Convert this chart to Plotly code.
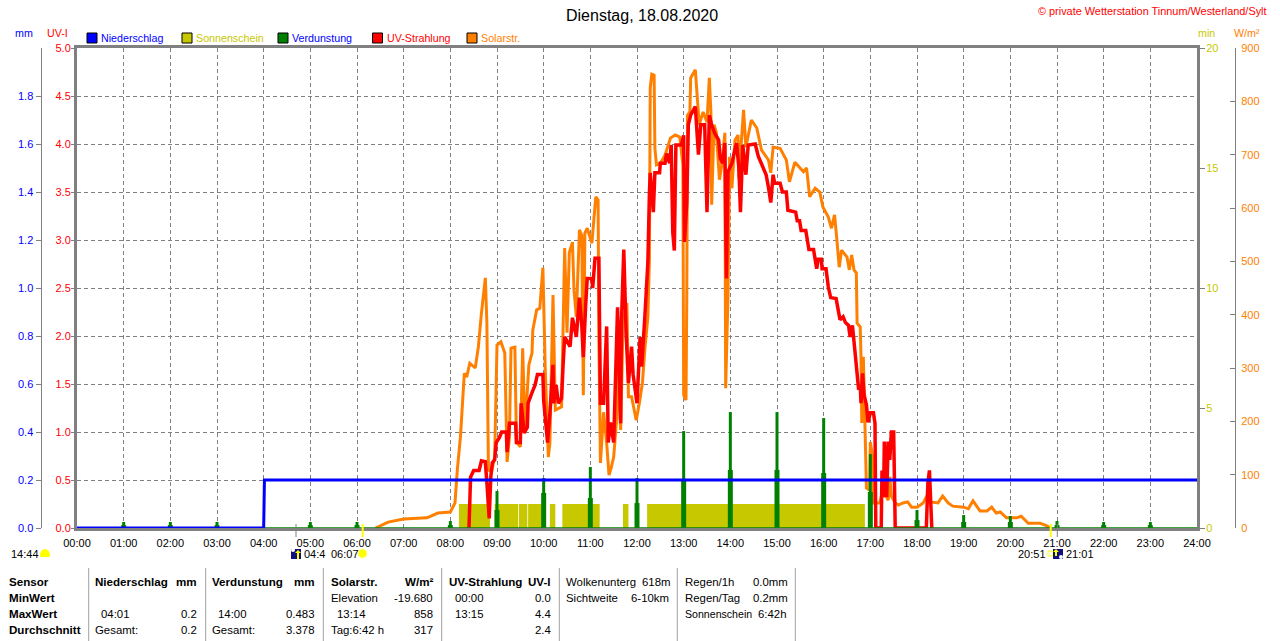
import plotly.graph_objects as go
import pandas as pd

W, H = 1280, 641
DAY = pd.Timestamp('2020-08-18')

# Solar radiation, W/m2 (minutes since midnight, value)
solar_min = [384, 400, 420, 450, 464, 480, 486, 487, 489, 493, 496, 498, 501, 505, 512, 516, 520, 525, 527, 529,
             533, 537, 540, 545, 550, 553, 556, 558, 563, 565, 570, 573, 576, 581, 585, 586, 591, 595, 599, 602,
             606, 608, 612, 615, 623, 627, 630, 633, 637, 639, 642, 646, 649, 651, 653, 656, 662, 665, 667, 670,
             671, 673, 677, 681, 684, 687, 690, 694, 696, 699, 702, 707, 709, 713, 719, 723, 727, 730, 734, 736,
             737, 739, 742, 743, 745, 750, 756, 763, 769, 775, 779, 780, 783, 784, 785, 788, 789, 795, 797, 800,
             805, 810, 813, 815, 816, 819, 822, 826, 829, 833, 834, 837, 839, 842, 846, 850, 851, 857, 860, 867,
             874, 880, 889, 892, 895, 904, 912, 916, 923, 934, 938, 942, 949, 955, 959, 966, 970, 974, 977, 980,
             983, 990, 993, 996, 999, 1002, 1003, 1007, 1008, 1009, 1011, 1013, 1015, 1019, 1020, 1023, 1024, 1032,
             1036, 1043, 1045, 1047, 1052, 1056, 1062, 1068, 1073, 1080, 1088, 1092, 1097, 1107, 1113, 1120, 1126,
             1140, 1146, 1152, 1161, 1170, 1176, 1182, 1187, 1195, 1208, 1214, 1223, 1238, 1247, 1251]
solar_val = [0, 11, 17, 19, 28, 30, 47, 71, 109, 171, 234, 290, 283, 309, 300, 339, 403, 469, 384, 109,
             105, 133, 343, 349, 328, 124, 171, 337, 339, 161, 152, 337, 184, 306, 328, 371, 409, 412, 488, 300,
             133, 159, 437, 221, 227, 525, 366, 516, 536, 446, 396, 559, 549, 249, 553, 562, 534, 596, 621, 615,
             352, 122, 217, 159, 99, 114, 133, 208, 321, 184, 384, 422, 246, 246, 202, 234, 272, 334, 396, 506,
             825, 851, 849, 712, 681, 684, 699, 731, 737, 733, 681, 249, 240, 431, 774, 780, 844, 859, 812, 756,
             780, 761, 844, 780, 606, 756, 742, 653, 681, 741, 262, 437, 696, 637, 727, 737, 656, 784, 714, 765,
             750, 709, 690, 666, 714, 712, 690, 649, 686, 668, 675, 621, 637, 630, 602, 583, 562, 587, 540, 489,
             521, 508, 484, 512, 484, 478, 384, 377, 321, 197, 321, 171, 75, 71, 161, 133, 47, 47,
             71, 52, 96, 60, 47, 43, 47, 49, 39, 39, 47, 58, 49, 47, 60, 47, 41,
             39, 36, 51, 32, 32, 39, 28, 30, 19, 19, 22, 9, 9, 4, 0]

# UV index (minutes since midnight, value)
uv_min = [504, 506, 510, 517, 520, 525, 527, 530, 532, 534, 537, 539, 543, 546, 552, 553, 556, 564, 565, 570,
          571, 575, 579, 580, 585, 589, 592, 599, 600, 603, 605, 608, 612, 613, 616, 619, 623, 625, 627, 634,
          637, 642, 646, 649, 651, 654, 656, 662, 663, 666, 671, 672, 673, 677, 679, 681, 683, 686, 690, 692,
          695, 699, 700, 703, 706, 709, 713, 715, 720, 724, 726, 730, 733, 734, 736, 737, 739, 741, 743, 749,
          750, 756, 758, 762, 764, 766, 768, 770, 777, 780, 781, 784, 786, 789, 795, 797, 799, 802, 807, 810,
          813, 816, 820, 825, 827, 830, 833, 834, 835, 837, 842, 845, 848, 851, 853, 856, 860, 863, 872, 876,
          882, 886, 889, 892, 895, 897, 904, 907, 912, 914, 924, 926, 929, 931, 937, 941, 947, 949, 951, 953,
          957, 958, 963, 966, 969, 976, 981, 985, 988, 992, 994, 997, 1000, 1003, 1005, 1007, 1008, 1010, 1012,
          1015, 1017, 1020, 1024, 1026, 1027, 1034, 1035, 1037, 1038, 1041, 1043, 1045, 1047, 1050, 1051, 1052,
          1092, 1093, 1094, 1096, 1098, 1099]
uv_val = [0, .53, .6, .6, .7, .69, .47, .1, .53, .68, .71, .89, .94, 1.0, 1.0, .79, 1.09, 1.09, .89, .89,
          1.3, .99, 1.05, 1.3, 1.41, 1.49, 1.6, 1.6, 1.33, 1.05, .89, 1.2, 1.7, 1.3, 1.49, 1.3, 1.35, 1.7, 1.99, 1.89,
          2.19, 1.99, 2.4, 2.11, 1.78, 2.32, 2.6, 2.6, 2.5, 2.81, 2.81, 2.03, 1.3, 1.3, 1.65, 2.1, .89, 1.1, .89, 1.41,
          2.3, 1.09, 2.14, 2.9, 2.03, 1.51, 1.89, 1.6, 1.3, 1.99, 1.68, 2.19, 2.53, 2.77, 3.5, 3.7, 3.5, 3.29, 3.7, 3.7,
          3.8, 3.8, 3.9, 3.8, 3.99, 3.08, 2.89, 3.99, 3.99, 4.09, 2.98, 3.39, 4.2, 4.3, 4.39, 4.09, 3.89, 4.2, 4.2, 3.29,
          4.3, 4.2, 4.11, 4.04, 3.85, 3.8, 4.01, 3.16, 2.6, 3.71, 3.8, 3.91, 4.01, 3.75, 3.29, 3.99, 3.68, 3.99, 4.0, 3.87,
          3.76, 3.68, 3.55, 3.39, 3.68, 3.59, 3.59, 3.5, 3.5, 3.31, 3.29, 3.2, 3.2, 3.1, 3.1, 2.9, 2.9, 2.79, 2.7, 2.8,
          2.8, 2.7, 2.7, 2.51, 2.4, 2.39, 2.17, 2.2, 2.14, 2.11, 1.99, 2.11, 1.85, 1.65, 1.44, 1.49, 1.3, 1.61, 1.39,
          1.28, 1.1, 1.2, 1.2, 1.09, 0, 0, .6, .32, .9, .32, .9, .71, 1.0, 1.0, .05, 0,
          0, .16, .47, .6, .16, 0]

# Precipitation, mm
rain_min = [0, 240, 241, 1440]
rain_val = [0, 0, 0.2, 0.2]

# Evaporation, mm: hourly spike and its lower wider foot
evap_hour = list(range(1, 24))
evap_top = [.025, .025, .025, 0, .025, .025, 0, .029, .154, .208, .254, .208, .404, .483, .483, .458, .308,
            .075, .054, .05, .029, .025, .025]
evap_foot = [.012, .012, .012, 0, .012, .012, 0, .012, .075, .146, .125, .104, .2, .242, .242, .229, .15,
             .033, .025, .025, .012, .012, .012]

# Sunshine, minutes per minute
sun_start = [491, 537, 568, 580, 608, 624, 702, 733]
sun_end = [531, 567, 579, 603, 615, 672, 709, 1013]
sun_val = [1] * len(sun_start)

uv_ticks = [0, .5, 1, 1.5, 2, 2.5, 3, 3.5, 4, 4.5, 5]
mm_ticks = [0, .2, .4, .6, .8, 1, 1.2, 1.4, 1.6, 1.8]
min_ticks = [0, 5, 10, 15, 20]
solar_ticks = [0, 100, 200, 300, 400, 500, 600, 700, 800, 900]
hour_labels = [f'{h:02d}:00' for h in range(25)]

BLUE, OLIVE, GREEN, RED, ORANGE = '#0000FF', '#C8C800', '#008000', '#FF0000', '#FF8000'
GRAY = '#808080'
NAVY = '#101080'
SUN = '#FFFF00'
FONT = 'Liberation Sans'
FS = 11
FS_HEAD = 10.7
FS_TAB = 11.4
FS_BOLD = 11.6


def t(minutes):
    return DAY + pd.to_timedelta(minutes, unit='min')


def ms(px):
    # bar width given in pixels of the plot area
    return px / (1120 / 24) * 3600000


fig = go.Figure()

sun_s = pd.Series(sun_start)
sun_e = pd.Series(sun_end)
fig.add_trace(go.Bar(x=t((sun_s + sun_e) / 2), y=sun_val, width=list((sun_e - sun_s) * 60000),
                     marker=dict(color=OLIVE, line_width=0), yaxis='y', hoverinfo='skip'))
fig.add_trace(go.Scatter(x=t(pd.Series(solar_min)), y=solar_val, mode='lines', yaxis='y2',
                         line=dict(color=ORANGE, width=3), name='Solarstr.'))
fig.add_trace(go.Scatter(x=t(pd.Series(uv_min)), y=uv_val, mode='lines', yaxis='y3',
                         line=dict(color=RED, width=3.5), name='UV-Strahlung'))
evap_x = t(pd.Series(evap_hour) * 60)
fig.add_trace(go.Bar(x=evap_x, y=evap_foot, width=ms(5), yaxis='y4', marker=dict(color=GREEN, line_width=0)))
fig.add_trace(go.Bar(x=evap_x, y=evap_top, width=ms(3), yaxis='y4', marker=dict(color=GREEN, line_width=0)))
fig.add_trace(go.Scatter(x=t(pd.Series([240, 1440])), y=[0, 0], mode='lines', yaxis='y4',
                         line=dict(color=GREEN, width=1.5)))
fig.add_trace(go.Scatter(x=t(pd.Series(rain_min)), y=rain_val, mode='lines', yaxis='y4',
                         line=dict(color=BLUE, width=3), name='Niederschlag'))


def px_x(x):
    return x / W


def px_y(y):
    return 1 - y / H


def label(x, y, text, color='black', size=FS_TAB, anchor='left', bold=False):
    if bold:
        text = f'<b>{text}</b>'
        size = FS_BOLD
    fig.add_annotation(x=px_x(x), y=px_y(y), xref='paper', yref='paper', text=text, showarrow=False,
                       xanchor=anchor, yanchor='middle', borderpad=0,
                       font=dict(family=FONT, size=size, color=color))


def box(x0, y0, x1, y1, color, line='rgba(0,0,0,0)', width=0):
    fig.add_shape(type='rect', xref='paper', yref='paper', x0=px_x(x0), x1=px_x(x1), y0=px_y(y0), y1=px_y(y1),
                  fillcolor=color, line=dict(color=line, width=width))


def vline(x, y0, y1, color=GRAY, width=1):
    fig.add_shape(type='line', xref='paper', yref='paper', x0=px_x(x), x1=px_x(x), y0=px_y(y0), y1=px_y(y1),
                  line=dict(color=color, width=width))


def disc(x0, y0, x1, y1, color, line='rgba(0,0,0,0)'):
    fig.add_shape(type='circle', xref='paper', yref='paper', x0=px_x(x0), x1=px_x(x1), y0=px_y(y0), y1=px_y(y1),
                  fillcolor=color, line=dict(color=line, width=1))


def arrow(x, tip, base):
    # little yellow arrow of the moon icons
    path = f'M {px_x(x - 3)} {px_y(tip + 3)} L {px_x(x)} {px_y(tip)} L {px_x(x + 3)} {px_y(tip + 3)} Z'
    fig.add_shape(type='path', xref='paper', yref='paper', path=path, fillcolor=SUN, line_width=0)
    box(x - 1, tip + 3, x + 1, base, SUN)


# title and header
label(642, 15, 'Dienstag, 18.08.2020', size=16, anchor='center')
label(1268, 11, '© private Wetterstation Tinnum/Westerland/Sylt', color=RED, size=10.9, anchor='right')
label(14, 33, 'mm', color=BLUE, size=FS_HEAD)
label(45.5, 33, 'UV-I', color=RED, size=FS_HEAD)
label(1197, 33, 'min', color=OLIVE, size=FS_HEAD)
label(1233, 33, 'W/m²', color=ORANGE, size=FS_HEAD)

# legend
for x0, name, col, text_col in [(87, 'Niederschlag', BLUE, BLUE), (182, 'Sonnenschein', OLIVE, OLIVE),
                                (278, 'Verdunstung', GREEN, BLUE), (372.5, 'UV-Strahlung', RED, RED),
                                (467, 'Solarstr.', ORANGE, ORANGE)]:
    box(x0, 33, x0 + 10, 43, col, 'black', 1)
    label(x0 + 13, 38, name, color=text_col, size=FS_HEAD)

# sunrise / sunset marks under the axis
vline(296, 524, 537)
vline(362.7, 524, 537, SUN, 2)
vline(1050.7, 524, 537, SUN, 2)
vline(1057.3, 524, 537)
label(10, 554, '14:44', size=FS)
disc(40, 549, 50, 561, SUN)
box(39, 557, 51, 562, 'white')
box(291, 549, 301, 559, NAVY)
disc(291, 548, 295, 552, 'white')
arrow(298, 550, 559)
label(303, 554, '04:4', size=FS)
label(330, 554, '06:07', size=FS)
disc(358, 549, 367, 558, SUN, '#FFFFA0')
label(1017, 554, '20:51', size=FS)
box(1048, 551, 1053, 556, 'white', SUN, 1)
box(1053, 549, 1063, 559, NAVY)
arrow(1056, 549, 556)
disc(1059, 555, 1063, 559, 'white')
label(1065, 554, '21:01', size=FS)

# table at the bottom
for x in [88.7, 205.7, 323.3, 441.7, 559.3, 677.3, 795.3]:
    vline(x, 568, 641, '#A0A0A0', 1)
rows = [581.7, 597.7, 613.7, 629.7]
for y, s in zip(rows, ['Sensor', 'MinWert', 'MaxWert', 'Durchschnitt']):
    label(7.5, y, s, bold=True)
label(94, rows[0], 'Niederschlag', bold=True)
label(198, rows[0], 'mm', bold=True, anchor='right')
label(100, rows[2], '04:01')
label(198, rows[2], '0.2', anchor='right')
label(94, rows[3], 'Gesamt:')
label(198, rows[3], '0.2', anchor='right')
label(211, rows[0], 'Verdunstung', bold=True)
label(316, rows[0], 'mm', bold=True, anchor='right')
label(217, rows[2], '14:00')
label(316, rows[2], '0.483', anchor='right')
label(211, rows[3], 'Gesamt:')
label(316, rows[3], '3.378', anchor='right')
label(330, rows[0], 'Solarstr.', bold=True)
label(434, rows[0], 'W/m²', bold=True, anchor='right')
label(330, rows[1], 'Elevation')
label(434, rows[1], '-19.680', anchor='right')
label(336, rows[2], '13:14')
label(434, rows[2], '858', anchor='right')
label(330, rows[3], 'Tag:6:42 h')
label(434, rows[3], '317', anchor='right')
label(447.5, rows[0], 'UV-Strahlung', bold=True)
label(552, rows[0], 'UV-I', bold=True, anchor='right')
label(453.5, rows[1], '00:00')
label(552, rows[1], '0.0', anchor='right')
label(453.5, rows[2], '13:15')
label(552, rows[2], '4.4', anchor='right')
label(552, rows[3], '2.4', anchor='right')
label(565, rows[0], 'Wolkenunterg')
label(671.7, rows[0], '618m', anchor='right')
label(565, rows[1], 'Sichtweite')
label(670, rows[1], '6-10km', anchor='right')
label(684, rows[0], 'Regen/1h')
label(789.3, rows[0], '0.0mm', anchor='right')
label(684, rows[1], 'Regen/Tag')
label(789.3, rows[1], '0.2mm', anchor='right')
label(684, rows[2], 'Sonnenschein', size=10.6)
label(788, rows[2], '6:42h', anchor='right')

x_dom = [77 / W, 1197 / W]
y_dom = [1 - 528 / H, 1 - 48 / H]
tick = dict(ticks='outside', ticklen=5, tickcolor=GRAY, tickwidth=1, showgrid=False, zeroline=False)
grid_dash = '4px,3px'

fig.update_layout(
    width=W, height=H, margin=dict(l=0, r=0, t=0, b=0), autosize=False,
    paper_bgcolor='white', plot_bgcolor='white', showlegend=False, barmode='overlay',
    font=dict(family=FONT, size=FS, color='black'),
    xaxis=dict(domain=x_dom, type='date', range=[t(0), t(1440)], anchor='y', automargin=False,
               tickvals=[t(h * 60) for h in range(25)], ticktext=hour_labels, ticklabelstandoff=3,
               ticks='', showgrid=True, griddash=grid_dash, gridcolor=GRAY, gridwidth=1, zeroline=False,
               showline=True, linecolor=GRAY, linewidth=3, mirror=True,
               tickfont=dict(color='black', size=FS)),
    yaxis=dict(domain=y_dom, range=[0, 20], side='right', anchor='x', tickvals=min_ticks, automargin=False,
               ticklabelstandoff=-1, tickfont=dict(color=OLIVE), showline=True, linecolor=GRAY, linewidth=3,
               mirror=True, **tick),
    yaxis2=dict(range=[0, 900], overlaying='y', side='right', anchor='free', position=1235 / W, automargin=False,
                ticklabelstandoff=3, tickvals=solar_ticks, tickfont=dict(color=ORANGE), showline=True,
                linecolor=GRAY, linewidth=1, ticks='inside', ticklen=5, tickcolor=GRAY, showgrid=False,
                zeroline=False),
    yaxis3=dict(range=[0, 5], overlaying='y', side='left', anchor='x', tickvals=uv_ticks, tickformat='.1f',
                automargin=False, ticklabelstandoff=-2, tickfont=dict(color=RED), ticks='outside', ticklen=5,
                tickcolor=GRAY, zeroline=False, showgrid=True, griddash=grid_dash, gridcolor=GRAY, gridwidth=1),
    yaxis4=dict(range=[0, 2], overlaying='y', side='left', anchor='free', position=40.5 / W, tickvals=mm_ticks,
                automargin=False, tickformat='.1f', tickfont=dict(color=BLUE), showline=True, linecolor=GRAY,
                linewidth=1, **tick),
)

fig.write_html('out.html', config={'displayModeBar': False}, post_script="document.body.style.margin='0';")
